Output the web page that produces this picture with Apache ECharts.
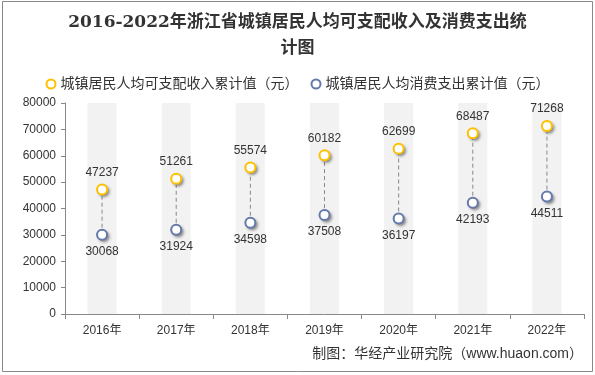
<!DOCTYPE html>
<html>
<head>
<meta charset="utf-8">
<script src="https://cdn.jsdelivr.net/npm/echarts@6/dist/echarts.min.js"></script>
<style>
  html, body { margin: 0; padding: 0; background: #fff; }
  #main { width: 595px; height: 375px; }
</style>
</head>
<body>
<div id="main"></div>
<script>
const years = ['2016年', '2017年', '2018年', '2019年', '2020年', '2021年', '2022年']
const income = [47237, 51261, 55574, 60182, 62699, 68487, 71268]
const consumption = [30068, 31924, 34598, 37508, 36197, 42193, 44511]
const backBars = [80000, 80000, 80000, 80000, 80000, 80000, 80000]

const font = '"Liberation Sans", Arial, "Noto Sans CJK SC", sans-serif'

const chart = echarts.init(document.getElementById('main'))

// shadow layer drawn under the ring so the ring stays white inside
const shadowLayer = function(data, color) {
  return {
    type: 'scatter',
    data: data,
    symbol: 'circle',
    symbolSize: 11,
    silent: true,
    itemStyle: {
      color: color,
      opacity: 1,
      shadowColor: 'rgba(0,0,0,0.45)',
      shadowBlur: 3,
      shadowOffsetX: 2,
      shadowOffsetY: 2
    },
    z: 3
  }
}

const option = {
  backgroundColor: '#fff',
  animation: false,
  title: {
    text: '2016-2022年浙江省城镇居民人均可支配收入及消费支出统\n计图',
    left: 'center',
    top: 5,
    textStyle: {
      fontSize: 17,
      fontWeight: 'bold',
      color: '#333',
      lineHeight: 26,
      fontFamily: '"DejaVu Serif", "Noto Sans CJK SC", serif'
    }
  },
  legend: {
    top: 72,
    left: 'center',
    itemWidth: 9,
    itemHeight: 9,
    itemGap: 12,
    data: [
      { name: '城镇居民人均可支配收入累计值（元）', icon: 'circle', itemStyle: { color: '#fff', borderColor: '#FFC000', borderWidth: 2 } },
      { name: '城镇居民人均消费支出累计值（元）', icon: 'circle', itemStyle: { color: '#fff', borderColor: '#647AAB', borderWidth: 2 } }
    ],
    textStyle: { fontSize: 14, color: '#333', fontFamily: font }
  },
  grid: { left: 65, right: 11, top: 103, bottom: 61 },
  xAxis: {
    type: 'category',
    data: years,
    axisLine: { lineStyle: { color: '#888' } },
    axisTick: { show: true, length: 5, lineStyle: { color: '#888' } },
    axisLabel: { color: '#333', fontSize: 12, margin: 11, fontFamily: font }
  },
  yAxis: {
    type: 'value',
    min: 0,
    max: 80000,
    interval: 10000,
    axisLine: { show: true, lineStyle: { color: '#888' } },
    axisTick: { show: true, length: 4, lineStyle: { color: '#888' } },
    splitLine: { show: false },
    axisLabel: { color: '#333', fontSize: 12, margin: 9, fontFamily: font, formatter: function(v) { return String(v) } }
  },
  graphic: [{
    type: 'rect',
    shape: { x: 2.5, y: 1.5, width: 590, height: 370 },
    style: { fill: 'none', stroke: '#888', lineWidth: 1 },
    silent: true
  }],
  series: [
    {
      type: 'bar',
      data: backBars,
      barWidth: 29,
      silent: true,
      itemStyle: { color: '#f2f2f2' },
      z: 1
    },
    {
      type: 'custom',
      data: consumption.map(function(v, i) { return [i, v, income[i]] }),
      renderItem: function(params, api) {
        const p1 = api.coord([api.value(0), api.value(1)])
        const p2 = api.coord([api.value(0), api.value(2)])
        return {
          type: 'line',
          shape: { x1: p1[0], y1: p1[1], x2: p2[0], y2: p2[1] },
          style: { stroke: '#888', lineWidth: 1, lineDash: [4, 3] }
        }
      },
      silent: true,
      z: 2
    },
    shadowLayer(income, '#FFC000'),
    shadowLayer(consumption, '#647AAB'),
    {
      name: '城镇居民人均可支配收入累计值（元）',
      type: 'scatter',
      data: income,
      symbol: 'circle',
      symbolSize: 10,
      itemStyle: { color: '#fff', opacity: 1, borderColor: '#FFC000', borderWidth: 2 },
      label: { show: true, position: 'top', distance: 5, color: '#333', fontSize: 12, fontFamily: font },
      z: 4
    },
    {
      name: '城镇居民人均消费支出累计值（元）',
      type: 'scatter',
      data: consumption,
      symbol: 'circle',
      symbolSize: 10,
      itemStyle: { color: '#fff', opacity: 1, borderColor: '#647AAB', borderWidth: 2 },
      label: { show: true, position: 'bottom', distance: 5, color: '#333', fontSize: 12, fontFamily: font },
      z: 4
    }
  ]
}

option.graphic.push({
  type: 'text',
  right: 12,
  top: 347,
  style: {
    text: '制图：华经产业研究院（www.huaon.com）',
    fill: '#333',
    fontSize: 14,
    fontFamily: font
  },
  silent: true
})

chart.setOption(option)
</script>
</body>
</html>
